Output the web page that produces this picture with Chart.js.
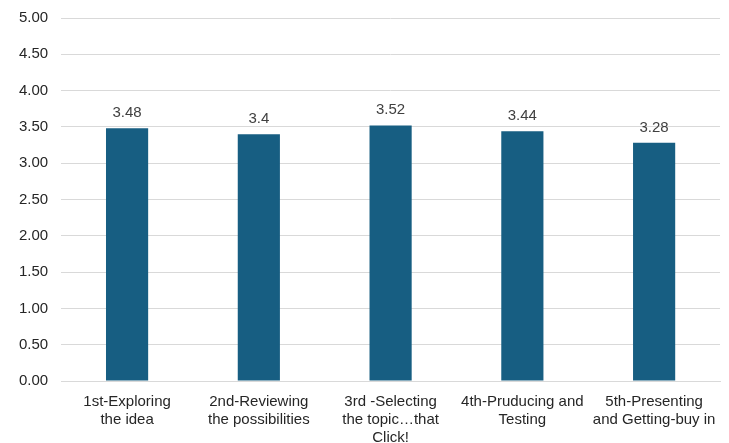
<!DOCTYPE html>
<html>
<head>
<meta charset="utf-8">
<script src="https://cdn.jsdelivr.net/npm/chart.js@4/dist/chart.umd.min.js"></script>
<style>
  html, body { margin: 0; padding: 0; background: #fff; overflow: hidden; }
  #wrap { width: 729px; height: 447px; position: relative; top: -4px; }
</style>
</head>
<body>
<div id="wrap"><canvas id="c"></canvas></div>
<script>
// Stage labels (multi-line) and average scores
const stages = [
  ["1st-Exploring", "the idea"],
  ["2nd-Reviewing", "the possibilities"],
  ["3rd -Selecting", "the topic\u2026that", "Click!"],
  ["4th-Pruducing and", "Testing"],
  ["5th-Presenting", "and Getting-buy in"]
];
const scores = [3.48, 3.4, 3.52, 3.44, 3.28];
const scoreLabels = ["3.48", "3.4", "3.52", "3.44", "3.28"];

const FONT = "'Liberation Sans', Arial, sans-serif";

// Writes each bar's value just above it
const valueLabels = {
  id: 'valueLabels',
  afterDatasetsDraw(chart) {
    const ctx = chart.ctx;
    const meta = chart.getDatasetMeta(0);
    ctx.save();
    ctx.font = "15px " + FONT;
    ctx.fillStyle = "#404040";
    ctx.textAlign = "center";
    ctx.textBaseline = "bottom";
    meta.data.forEach((bar, i) => {
      ctx.fillText(scoreLabels[i], bar.x, bar.y - 8);
    });
    ctx.restore();
  }
};

new Chart(document.getElementById('c'), {
  type: 'bar',
  data: {
    labels: stages,
    datasets: [{
      data: scores,
      backgroundColor: '#175e82',
      barPercentage: 0.32,
      categoryPercentage: 1.0
    }]
  },
  options: {
    responsive: true,
    maintainAspectRatio: false,
    animation: false,
    layout: { padding: { top: 0, right: 9, left: 6, bottom: -16 } },
    plugins: { legend: { display: false }, tooltip: { enabled: false } },
    scales: {
      y: {
        min: 0, max: 5,
        ticks: {
          stepSize: 0.5,
          color: '#262626',
          font: { family: FONT, size: 15 },
          padding: 13,
          callback: v => Number(v).toFixed(2)
        },
        grid: { color: '#d9d9d9', lineWidth: 1, drawTicks: false },
        border: { display: false }
      },
      x: {
        ticks: {
          color: '#262626',
          font: { family: FONT, size: 15, lineHeight: 1.2 },
          padding: 12,
          maxRotation: 0,
          autoSkip: false
        },
        grid: { display: false, drawTicks: false },
        border: { display: true, color: '#d9d9d9' }
      }
    }
  },
  plugins: [valueLabels]
});
</script>
</body>
</html>
